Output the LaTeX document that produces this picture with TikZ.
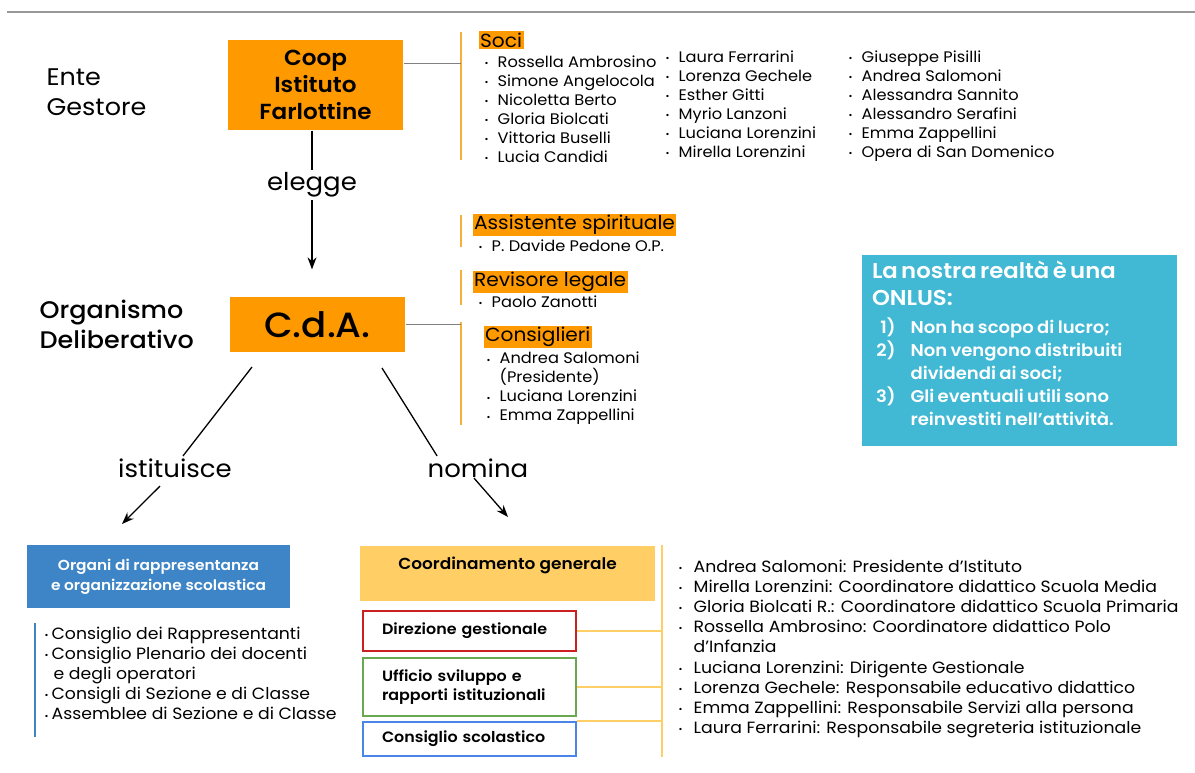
\documentclass[tikz,border=0pt]{standalone}
\usepackage{fontspec}
\setmainfont{Poppins}[FakeStretch=1.06]
\newfontfamily\medfont{Poppins Medium}[FakeStretch=1.06]
\newfontfamily\semifont{Poppins SemiBold}[FakeStretch=1.06]
\usetikzlibrary{positioning,arrows.meta}
\definecolor{boxorange}{HTML}{FF9900}
\definecolor{barorange}{HTML}{F9AE3A}
\definecolor{paleorange}{HTML}{FFCF66}
\definecolor{orgblue}{HTML}{3D85C6}
\definecolor{onlusteal}{HTML}{41B8D4}
\definecolor{dirred}{HTML}{CC1F1F}
\definecolor{uffgreen}{HTML}{6AA84F}
\definecolor{conblue}{HTML}{4A86E8}
\newcommand{\dotb}{\raisebox{0.8pt}{\fontsize{9}{9}\selectfont\textbullet}}
\newcommand{\itm}{\makebox[13pt][l]{\dotb}}
\newcommand{\itmb}{\makebox[15pt][l]{\dotb}}
\newcommand{\itmc}{\makebox[7pt][l]{\dotb}}
\tikzset{
  mainbox/.style={fill=boxorange, minimum width=175pt, align=center, inner sep=0pt},
  hl/.style={fill=boxorange, inner sep=1.5pt, anchor=west, font=\fontsize{19}{22}\selectfont},
  lst/.style={align=left, anchor=north west, inner sep=0pt, font=\fontsize{15.3}{19}\selectfont},
  bar/.style={draw=barorange, line width=2pt},
  conn/.style={draw=black!50, line width=1pt},
  verb/.style={font=\fontsize{24.5}{30}\selectfont, inner sep=2pt},
  subbox/.style={draw, line width=2pt, fill=white, text width=175pt, inner xsep=19pt,
    align=left, font=\semifont\fontsize{15}{19}\selectfont}
}
\begin{document}
\begin{tikzpicture}[x=1pt,y=-1pt,>={Stealth[length=12pt,width=9pt]},line width=1.3pt]
    \useasboundingbox (0,0) rectangle (1195,772);
    \draw[black!40, line width=1.5pt] (7,12) -- (1195,12);
    % Ente gestore
    \node[verb, font=\fontsize{24}{30}\selectfont, anchor=west, align=left] (ente) at (44,92) {Ente\\Gestore};
    \node[mainbox, minimum height=90pt, font=\semifont\fontsize{21.8}{27}\selectfont] (coop) at (315.5,85) {Coop\\Istituto\\Farlottine};
    \coordinate (sociT) at (461,32);
    \coordinate (sociB) at (461,160);
    \draw[bar] (sociT) -- (sociB);
    \draw[conn] ([yshift=22pt]coop.east) -- ([yshift=22pt]coop.east -| sociT);
    \node[hl] (soci) at (478,40) {Soci};
    \node[lst] (soci1) at (484,55.5) {\itm Rossella Ambrosino\\\itm Simone Angelocola\\\itm Nicoletta Berto\\\itm Gloria Biolcati\\\itm Vittoria Buselli\\\itm Lucia Candidi};
    \node[lst] (soci2) at (665,50.5) {\itm Laura Ferrarini\\\itm Lorenza Gechele\\\itm Esther Gitti\\\itm Myrio Lanzoni\\\itm Luciana Lorenzini\\\itm Mirella Lorenzini};
    \node[lst] (soci3) at (848,50.5) {\itm Giuseppe Pisilli\\\itm Andrea Salomoni\\\itm Alessandra Sannito\\\itm Alessandro Serafini\\\itm Emma Zappellini\\\itm Opera di San Domenico};
    % organismo deliberativo
    \node[verb] (elegge) at (312,185) {elegge};
    \node[verb, font=\medfont\fontsize{24}{30}\selectfont, anchor=west, align=left] (organ) at (37,324) {Organismo\\Deliberativo};
    \node[mainbox, minimum height=55pt, font=\medfont\fontsize{35}{40}\selectfont] (cda) at (317.5,324.5) {C.d.A.};
    \draw (coop.south -| elegge) -- (elegge);
    \draw[->, shorten >=27pt] (elegge) -- (elegge |- cda.north);
    \coordinate (assT) at (461,215);
    \coordinate (assB) at (461,247);
    \draw[bar] (assT) -- (assB);
    \node[hl] (ass) at (472,225) {Assistente spirituale};
    \node[lst] (ass1) at (478,239.5) {\itm P. Davide Pedone O.P.};
    \coordinate (revT) at (461,270);
    \coordinate (revB) at (461,305);
    \draw[bar] (revT) -- (revB);
    \node[hl] (rev) at (472,282) {Revisore legale};
    \node[lst] (rev1) at (478,295.5) {\itm Paolo Zanotti};
    \coordinate (consT) at (461,322);
    \coordinate (consB) at (461,425);
    \draw[bar] (consT) -- (consB);
    \draw[conn] (cda.east) -- (cda.east -| consT);
    \node[hl] (cons) at (483,337) {Consiglieri};
    \node[lst] (cons1) at (486,351.5) {\itm Andrea Salomoni\\\hspace*{13pt}(Presidente)\\\itm Luciana Lorenzini\\\itm Emma Zappellini};
    % istituisce / nomina
    \node[verb] (istit) at (175,468) {istituisce};
    \node[verb] (nomina) at (478,468) {nomina};
    \coordinate (cdaL) at (252,367);
    \coordinate (cdaR) at (382,368);
    \coordinate (istitA) at (122,524);
    \coordinate (nominaA) at (508,517);
    \draw (cdaL) -- ([xshift=8pt]istit.north);
    \draw[->] ([xshift=-15pt,yshift=-6pt]istit.south) -- (istitA);
    \draw (cdaR) -- ([xshift=12pt]nomina.north west);
    \draw[->] ([xshift=-4pt,yshift=2pt]nomina.south) -- (nominaA);
    % organi
    \node[fill=orgblue, minimum width=263pt, minimum height=63pt, align=center, text=white,
      font=\semifont\fontsize{14.5}{20}\selectfont] (organi) at (158.5,576.5) {Organi di rappresentanza\\e organizzazione scolastica};
    \coordinate (orgT) at (35,623);
    \coordinate (orgB) at (35,737);
    \draw[orgblue, line width=2.5pt] (orgT) -- (orgB);
    \node[lst, font=\fontsize{16.3}{20.2}\selectfont] (organi1) at (44,626) {\itmc Consiglio dei Rappresentanti\\\itmc Consiglio Plenario dei docenti\\\hspace*{9pt}e degli operatori\\\itmc Consigli di Sezione e di Classe\\\itmc Assemblee di Sezione e di Classe};
    % coordinamento
    \node[fill=paleorange, minimum width=295pt, text height=14.5pt, text depth=23.5pt, inner ysep=8.5pt,
      font=\semifont\fontsize{16}{19}\selectfont] (coord) at (507.5,573.5) {Coordinamento generale};
    \node[subbox, draw=dirred, minimum height=40pt] (direz) at (469.5,631) {Direzione gestionale};
    \node[subbox, draw=uffgreen, minimum height=58pt] (uff) at (469.5,687) {Ufficio sviluppo e\\rapporti istituzionali};
    \node[subbox, draw=conblue, minimum height=34pt] (consc) at (469.5,739) {Consiglio scolastico};
    \coordinate (coT) at (662,545);
    \coordinate (coB) at (662,757);
    \draw[paleorange, line width=2pt] (coT) -- (coB);
    \draw[paleorange, line width=2pt] (direz.east) -- (direz.east -| coT);
    \draw[paleorange, line width=2pt] (uff.east) -- (uff.east -| coT);
    \draw[paleorange, line width=2pt] (consc.north east) -- (consc.north east -| coT);
    \node[lst, font=\fontsize{16.3}{20.2}\selectfont] (coord1) at (678,559) {\itmb Andrea Salomoni: Presidente d’Istituto\\\itmb Mirella Lorenzini: Coordinatore didattico Scuola Media\\\itmb Gloria Biolcati R.: Coordinatore didattico Scuola Primaria\\\itmb Rossella Ambrosino: Coordinatore didattico Polo\\\hspace*{15pt}d’Infanzia\\\itmb Luciana Lorenzini: Dirigente Gestionale\\\itmb Lorenza Gechele: Responsabile educativo didattico\\\itmb Emma Zappellini: Responsabile Servizi alla persona\\\itmb Laura Ferrarini: Responsabile segreteria istituzionale};
    % onlus
    \node[fill=onlusteal, minimum width=315pt, minimum height=191pt, text width=295pt, inner xsep=10pt,
      align=left, text=white, font=\semifont] (onlus) at (1019.5,350.5) {\fontsize{21.5}{27}\selectfont La nostra realtà è una\\ONLUS:\par\vspace{5pt}
      \fontsize{17}{23}\selectfont\begin{tabular}[t]{@{\hspace{4pt}}r@{\hspace{15pt}}l@{}}1) & Non ha scopo di lucro;\\2) & Non vengono distribuiti\\ & dividendi ai soci;\\3) & Gli eventuali utili sono\\ & reinvestiti nell’attività.\end{tabular}\par\vspace{7pt}};
\end{tikzpicture}
\end{document}
